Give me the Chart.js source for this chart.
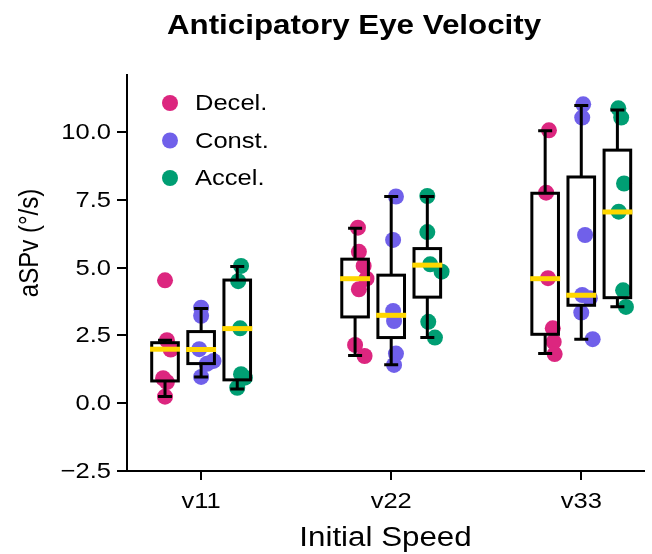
<!DOCTYPE html>
<html>
<head>
<meta charset="utf-8">
<script src="https://cdn.jsdelivr.net/npm/chart.js@4.4.1/dist/chart.umd.min.js"></script>
<style>
  html, body { margin: 0; padding: 0; background: #fff; }
</style>
</head>
<body>
<canvas id="chart" width="652" height="554"></canvas>
<script>
"use strict";

/* ---------------- DATA ---------------- */

const speeds = ["v11", "v22", "v33"];
const conditions = ["Decel.", "Const.", "Accel."];
const yTicks = [-2.5, 0, 2.5, 5, 7.5, 10];

// individual points, one inner list per speed
const decelVals = [
  [4.53, 2.32, 1.98, 0.92, 0.78, 0.24],
  [6.47, 5.58, 5.06, 4.59, 4.2, 2.15, 1.74],
  [10.06, 7.76, 4.61, 2.76, 2.26, 1.81],
];
const constVals = [
  [3.52, 3.22, 1.99, 1.56, 1.45, 0.97],
  [7.62, 6.02, 3.4, 3.03, 1.83, 1.41],
  [11.02, 10.53, 6.2, 3.99, 3.87, 3.34, 2.36],
];
const accelVals = [
  [5.06, 4.5, 2.76, 1.07, 0.94, 0.57],
  [7.64, 6.31, 5.12, 4.85, 3.0, 2.42],
  [10.87, 10.53, 8.1, 7.06, 4.16, 3.55],
];

// horizontal jitter of each point (x units)
const decelJitter = [
  [0.0, 0.01, 0.03, -0.01, 0.01, 0.0],
  [0.015, 0.02, 0.045, 0.06, 0.02, 0.0, 0.05],
  [0.02, 0.005, 0.015, 0.04, 0.045, 0.05],
];
const constJitter = [
  [0.0, 0.0, -0.01, 0.065, 0.03, 0.0],
  [0.025, 0.01, 0.01, 0.015, 0.025, 0.015],
  [0.01, 0.005, 0.02, 0.005, 0.045, 0.0, 0.06],
];
const accelJitter = [
  [0.02, 0.005, 0.015, 0.02, 0.04, 0.0],
  [0.0, 0.0, 0.015, 0.075, 0.005, 0.04],
  [0.005, 0.02, 0.035, 0.007, 0.03, 0.045],
];

// box stats per speed: [low whisker, q1, median, q3, high whisker]
const decelBoxes = [
  [0.25, 0.82, 1.99, 2.23, 2.32],
  [1.76, 3.18, 4.59, 5.31, 6.45],
  [1.83, 2.54, 4.59, 7.74, 10.04],
];
const constBoxes = [
  [0.97, 1.46, 1.98, 2.64, 3.49],
  [1.42, 2.42, 3.24, 4.72, 7.62],
  [2.36, 3.61, 3.98, 8.34, 10.98],
];
const accelBoxes = [
  [0.52, 0.86, 2.75, 4.54, 5.04],
  [2.42, 3.91, 5.09, 5.70, 7.62],
  [3.56, 3.89, 7.05, 9.33, 10.81],
];

/* ---------------- STYLE ---------------- */

const FONT = "'Liberation Sans', Arial, Helvetica, sans-serif";
const SX = 1.16;            // text in the reference is a bit wider than Arial
const colors = ["#dc267f", "#7060ea", "#009e73"];
const MEDIAN_COLOR = "#ffd700";
const condOffset = [-0.19, 0, 0.19];
const BOX_HALF = 0.07;      // x units
const CAP_HALF = 7;         // px
const MEDIAN_HALF = 15;     // px

const valueSets = [decelVals, constVals, accelVals];
const jitterSets = [decelJitter, constJitter, accelJitter];
const boxSets = [decelBoxes, constBoxes, accelBoxes];

function fmtTick(v) {
  const s = Math.abs(v).toFixed(1);
  return v < 0 ? "\u2212" + s : s;
}

function wideText(ctx, text, x, y, align, baseline, font) {
  ctx.save();
  ctx.translate(x, y);
  ctx.scale(SX, 1);
  ctx.font = font;
  ctx.textAlign = align;
  ctx.textBaseline = baseline;
  ctx.fillText(text, 0, 0);
  ctx.restore();
}

/* ---------------- PLUGINS ---------------- */

const boxPlugin = {
  id: "boxes",
  afterDatasetsDraw(chart) {
    const { ctx, scales: { x, y } } = chart;
    ctx.save();
    boxSets.forEach((boxes, ci) => {
      boxes.forEach((b, gi) => {
        const [lo, q1, med, q3, hi] = b;
        const center = gi + condOffset[ci];
        const cx = x.getPixelForValue(center);
        const left = x.getPixelForValue(center - BOX_HALF);
        const right = x.getPixelForValue(center + BOX_HALF);
        const pLo = y.getPixelForValue(lo);
        const pQ1 = y.getPixelForValue(q1);
        const pMed = y.getPixelForValue(med);
        const pQ3 = y.getPixelForValue(q3);
        const pHi = y.getPixelForValue(hi);

        ctx.strokeStyle = "#000";
        ctx.lineWidth = 3;
        ctx.lineCap = "butt";
        // whiskers + caps
        ctx.beginPath();
        ctx.moveTo(cx, pQ3); ctx.lineTo(cx, pHi);
        ctx.moveTo(cx, pQ1); ctx.lineTo(cx, pLo);
        ctx.moveTo(cx - CAP_HALF, pHi); ctx.lineTo(cx + CAP_HALF, pHi);
        ctx.moveTo(cx - CAP_HALF, pLo); ctx.lineTo(cx + CAP_HALF, pLo);
        ctx.stroke();
        // box
        ctx.strokeRect(left, pQ3, right - left, pQ1 - pQ3);
        // median
        ctx.strokeStyle = MEDIAN_COLOR;
        ctx.lineWidth = 5;
        ctx.beginPath();
        ctx.moveTo(cx - MEDIAN_HALF, pMed);
        ctx.lineTo(cx + MEDIAN_HALF, pMed);
        ctx.stroke();
      });
    });
    ctx.restore();
  },
};

const decorPlugin = {
  id: "decor",
  afterDraw(chart) {
    const { ctx, chartArea, scales: { x, y } } = chart;
    ctx.save();
    ctx.fillStyle = "#000";

    // tick labels, placed with the library's scales
    x.ticks.forEach((t) => {
      wideText(ctx, speeds[t.value] ?? "", x.getPixelForValue(t.value), 508,
        "center", "alphabetic", "22px " + FONT);
    });
    y.ticks.forEach((t) => {
      wideText(ctx, fmtTick(t.value), chartArea.left - 16, y.getPixelForValue(t.value) + 1,
        "right", "middle", "22px " + FONT);
    });

    // title
    wideText(ctx, "Anticipatory Eye Velocity", 354, 34, "center", "alphabetic", "bold 27px " + FONT);

    // y axis title
    ctx.save();
    ctx.translate(38, 243);
    ctx.scale(SX, 1);
    ctx.rotate(-Math.PI / 2);
    ctx.font = "24px " + FONT;
    ctx.textAlign = "center";
    ctx.textBaseline = "alphabetic";
    ctx.fillText("aSPv (\u00b0/s)", 0, 0);
    ctx.restore();

    // x axis title
    wideText(ctx, "Initial Speed", (chartArea.left + chartArea.right) / 2, 546,
      "center", "alphabetic", "27px " + FONT);

    // legend
    conditions.forEach((name, i) => {
      const cy = 103 + i * 37.5;
      ctx.fillStyle = colors[i];
      ctx.beginPath();
      ctx.arc(170, cy, 8, 0, Math.PI * 2);
      ctx.fill();
      ctx.fillStyle = "#000";
      wideText(ctx, name, 195, cy + 1, "left", "middle", "22px " + FONT);
    });
    ctx.restore();
  },
};

/* ---------------- CHART ---------------- */

const datasets = conditions.map((name, ci) => ({
  label: name,
  data: valueSets[ci].flatMap((vals, gi) =>
    vals.map((v, k) => ({ x: gi + condOffset[ci] + jitterSets[ci][gi][k], y: v }))
  ),
  backgroundColor: colors[ci],
  borderWidth: 0,
  pointRadius: 8,
  pointHoverRadius: 8,
}));

new Chart(document.getElementById("chart"), {
  type: "scatter",
  data: { datasets },
  plugins: [boxPlugin, decorPlugin],
  options: {
    responsive: false,
    devicePixelRatio: 1,
    animation: false,
    layout: { padding: { top: 75, left: 0, right: 0, bottom: 0 } },
    plugins: {
      legend: { display: false },
      tooltip: { enabled: false },
    },
    scales: {
      x: {
        type: "linear",
        min: -0.39,
        max: 2.33,
        afterBuildTicks: (scale) => { scale.ticks = speeds.map((_, i) => ({ value: i })); },
        afterFit: (scale) => { scale.height = 83; },
        grid: { display: true, drawOnChartArea: false, drawTicks: true, tickLength: 9, color: "#000", lineWidth: 2 },
        border: { display: true, color: "#000", width: 2 },
        ticks: { display: false },
      },
      y: {
        type: "linear",
        min: -2.5,
        max: 12.1,
        afterBuildTicks: (scale) => { scale.ticks = yTicks.map((v) => ({ value: v })); },
        afterFit: (scale) => { scale.width = 127; },
        grid: { display: true, drawOnChartArea: false, drawTicks: true, tickLength: 10, color: "#000", lineWidth: 2 },
        border: { display: true, color: "#000", width: 2 },
        ticks: { display: false },
      },
    },
  },
});
</script>
</body>
</html>
